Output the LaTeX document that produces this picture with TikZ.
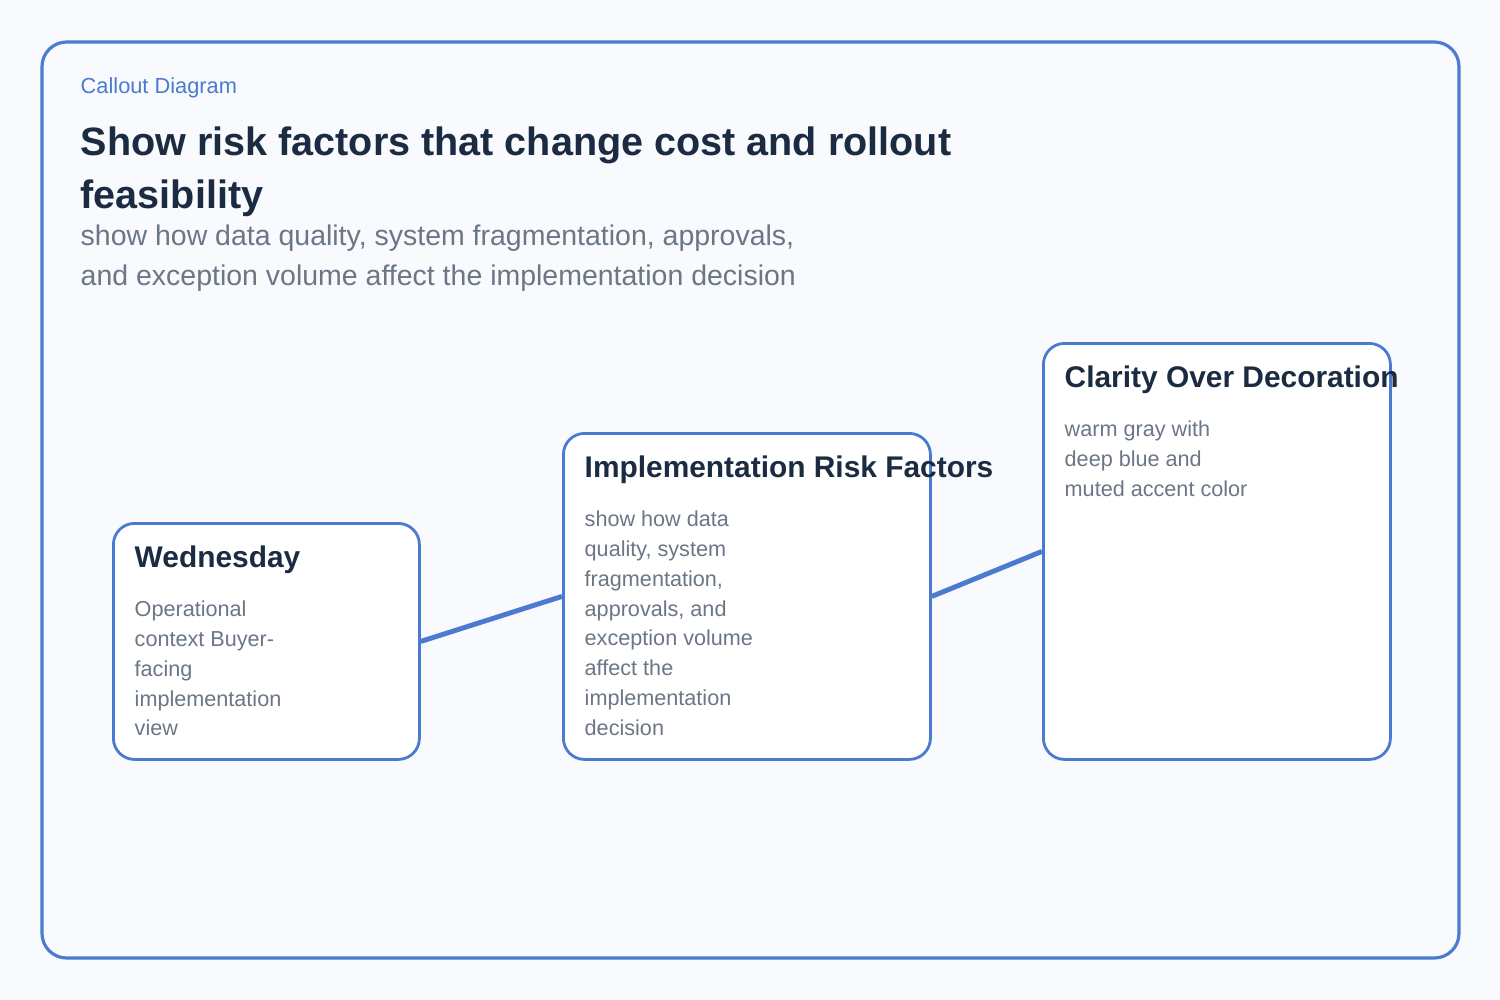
\documentclass[tikz,border=0pt]{standalone}
\usepackage{fontspec}
\setmainfont{Liberation Sans}
\definecolor{frameblue}{HTML}{4A7BD0}
\definecolor{inkdark}{HTML}{1B2B42}
\definecolor{inkgray}{HTML}{6B7686}
\definecolor{paper}{HTML}{F8FAFD}
\begin{document}
\begin{tikzpicture}[x=0.01cm,y=-0.01cm,
        card/.style={draw=frameblue,line width=0.8pt,fill=white,rounded corners=6pt,
            anchor=north west,inner sep=0pt},
        cardtitle/.style={anchor=west,inner sep=0pt,text=inkdark,
            font={\fontsize{8.5}{10}\selectfont\bfseries}},
        cardbody/.style={anchor=north west,inner sep=0pt,align=left,text=inkgray,
            font={\fontsize{6.15}{8.5}\selectfont}},
        link/.style={frameblue,line width=1.4pt}
        ]

        % Page and frame
        \useasboundingbox (0,0) rectangle (1500,1000);
        \fill[paper] (0,0) rectangle (1500,1000);
        \draw[frameblue,line width=0.9pt,rounded corners=7pt,fill=paper] (42,42) rectangle (1459,958);

        % Heading
        \node[anchor=west,inner sep=0pt,text=frameblue,font={\fontsize{6.2}{7}\selectfont}] (kicker) at (80,88) {Callout Diagram};
        \node[anchor=north west,inner sep=0pt,align=left,text=inkdark,
            font={\fontsize{11.25}{15}\selectfont\bfseries}] (title) at (80,126)
            {Show risk factors that change cost and rollout\\feasibility};
        \node[anchor=north west,inner sep=0pt,align=left,text=inkgray,
            font={\fontsize{8.1}{11.4}\selectfont}] (subtitle) at (80,224)
            {show how data quality, system fragmentation, approvals,\\and exception volume affect the implementation decision};

        % Cards
        \node[card,minimum width=306*0.01cm,minimum height=236*0.01cm] (wed) at (112,522) {};
        \node[card,minimum width=367*0.01cm,minimum height=326*0.01cm] (risk) at (562,432) {};
        \node[card,minimum width=347*0.01cm,minimum height=416*0.01cm] (clarity) at (1042,342) {};

        % Connectors
        \draw[link] (wed.east) -- (risk.west);
        \draw[link] (risk.east) -- (clarity.west);

        % Card texts
        \node[cardtitle] (wedtitle) at (134,560) {Wednesday};
        \node[cardbody] (wedbody) at (134,600)
            {Operational\\context Buyer-\\facing\\implementation\\view};
        \node[cardtitle] (risktitle) at (584,470) {Implementation Risk Factors};
        \node[cardbody] (riskbody) at (584,510)
            {show how data\\quality, system\\fragmentation,\\approvals, and\\exception volume\\affect the\\implementation\\decision};
        \node[cardtitle] (claritytitle) at (1064,380) {Clarity Over Decoration};
        \node[cardbody] (claritybody) at (1064,420)
            {warm gray with\\deep blue and\\muted accent color};
\end{tikzpicture}
\end{document}
